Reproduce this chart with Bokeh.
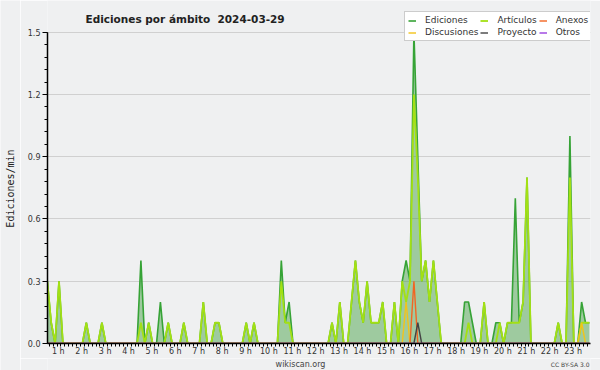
import math
from bokeh.plotting import figure
from bokeh.layouts import column, row
from bokeh.models import (Range1d, FixedTicker, PrintfTickFormatter, CustomJSTickFormatter,
                          Legend, LegendItem, Label)
from bokeh.embed import file_html
from bokeh.resources import INLINE

# ---------------- data ----------------
titulo = "Ediciones por ámbito"
fecha = "2024-03-29"
eje_y = "Ediciones/min"
fuente_pie = "wikiscan.org"
licencia = "CC BY-SA 3.0"
primer_minuto = 45      # first 10-minute bucket visible (00:45)
paso_minutos = 10
horas = list(range(1, 24))
ticks_y = [0.0, 0.3, 0.6, 0.9, 1.2, 1.5]

ediciones = [
    0.3, 0.1, 0, 0.3, 0, 0, 0, 0, 0, 0,
    0.1, 0, 0, 0, 0.1, 0, 0, 0, 0, 0,
    0, 0, 0, 0, 0.4, 0, 0.1, 0, 0, 0.2,
    0, 0.1, 0, 0, 0, 0.1, 0, 0, 0, 0,
    0.2, 0, 0, 0.1, 0.1, 0, 0, 0, 0, 0,
    0, 0.1, 0, 0.1, 0, 0, 0, 0, 0, 0,
    0.4, 0.1, 0.2, 0, 0, 0, 0, 0, 0, 0,
    0, 0, 0, 0.1, 0, 0.2, 0, 0, 0.2, 0.4,
    0.2, 0.1, 0.3, 0.1, 0.1, 0.1, 0.2, 0, 0, 0.2,
    0, 0.3, 0.4, 0.3, 1.5, 0.9, 0.3, 0.4, 0.2, 0.4,
    0.2, 0, 0, 0, 0, 0, 0, 0.2, 0.2, 0.1,
    0, 0, 0.2, 0, 0, 0.1, 0.1, 0, 0.1, 0.1,
    0.7, 0.1, 0.2, 0.8, 0, 0, 0, 0, 0, 0,
    0, 0.1, 0, 0, 1.0, 0, 0, 0.2, 0.1, 0.1,
]
articulos = [
    0.3, 0.1, 0, 0.3, 0, 0, 0, 0, 0, 0,
    0.1, 0, 0, 0, 0.1, 0, 0, 0, 0, 0,
    0, 0, 0, 0, 0.1, 0, 0.1, 0, 0, 0,
    0, 0.1, 0, 0, 0, 0.1, 0, 0, 0, 0,
    0.2, 0, 0, 0.1, 0.1, 0, 0, 0, 0, 0,
    0, 0.1, 0, 0.1, 0, 0, 0, 0, 0, 0,
    0.3, 0.1, 0.1, 0, 0, 0, 0, 0, 0, 0,
    0, 0, 0, 0.1, 0, 0.2, 0, 0, 0.2, 0.4,
    0.2, 0.1, 0.3, 0.1, 0.1, 0.1, 0.2, 0, 0, 0.2,
    0, 0.3, 0.2, 0.3, 1.2, 0.8, 0.3, 0.4, 0.2, 0.4,
    0.2, 0, 0, 0, 0, 0, 0, 0, 0.1, 0,
    0, 0, 0.2, 0, 0, 0, 0.1, 0, 0.1, 0.1,
    0.1, 0.1, 0.2, 0.8, 0, 0, 0, 0, 0, 0,
    0, 0.1, 0, 0, 0.8, 0, 0, 0.1, 0.1, 0.1,
]
anexos = [
    0, 0, 0, 0, 0, 0, 0, 0, 0, 0,
    0, 0, 0, 0, 0, 0, 0, 0, 0, 0,
    0, 0, 0, 0, 0, 0, 0, 0, 0, 0,
    0, 0, 0, 0, 0, 0, 0, 0, 0, 0,
    0, 0, 0, 0, 0, 0, 0, 0, 0, 0,
    0, 0, 0, 0, 0, 0, 0, 0, 0, 0,
    0, 0, 0, 0, 0, 0, 0, 0, 0, 0,
    0, 0, 0, 0, 0, 0, 0, 0, 0, 0,
    0, 0, 0, 0, 0, 0, 0, 0, 0, 0,
    0, 0, 0, 0, 0.3, 0, 0, 0, 0, 0,
    0, 0, 0, 0, 0, 0, 0, 0, 0, 0,
    0, 0, 0, 0, 0, 0, 0, 0, 0, 0,
    0, 0, 0, 0, 0, 0, 0, 0, 0, 0,
    0, 0, 0, 0, 0, 0, 0, 0, 0, 0,
]
discusiones = [
    0, 0, 0, 0, 0, 0, 0, 0, 0, 0,
    0, 0, 0, 0, 0, 0, 0, 0, 0, 0,
    0, 0, 0, 0, 0, 0, 0, 0, 0, 0,
    0, 0, 0, 0, 0, 0, 0, 0, 0, 0,
    0, 0, 0, 0, 0, 0, 0, 0, 0, 0,
    0, 0, 0, 0, 0, 0, 0, 0, 0, 0,
    0, 0, 0, 0, 0, 0, 0, 0, 0, 0,
    0, 0, 0, 0, 0, 0, 0, 0, 0, 0,
    0, 0, 0, 0, 0, 0, 0, 0, 0, 0,
    0, 0, 0.2, 0, 0, 0, 0, 0, 0, 0,
    0, 0, 0, 0, 0, 0, 0, 0, 0, 0,
    0, 0, 0, 0, 0, 0, 0, 0, 0, 0,
    0, 0, 0, 0, 0, 0, 0, 0, 0, 0,
    0, 0, 0, 0, 0, 0, 0, 0.1, 0, 0,
]
proyecto = [
    0, 0, 0, 0, 0, 0, 0, 0, 0, 0,
    0, 0, 0, 0, 0, 0, 0, 0, 0, 0,
    0, 0, 0, 0, 0, 0, 0, 0, 0, 0,
    0, 0, 0, 0, 0, 0, 0, 0, 0, 0,
    0, 0, 0, 0, 0, 0, 0, 0, 0, 0,
    0, 0, 0, 0, 0, 0, 0, 0, 0, 0,
    0, 0, 0, 0, 0, 0, 0, 0, 0, 0,
    0, 0, 0, 0, 0, 0, 0, 0, 0, 0,
    0, 0, 0, 0, 0, 0, 0, 0, 0, 0,
    0, 0, 0, 0, 0, 0.1, 0, 0, 0, 0,
    0, 0, 0, 0, 0, 0, 0, 0, 0, 0,
    0, 0, 0, 0, 0, 0, 0, 0, 0, 0,
    0, 0, 0, 0, 0, 0, 0, 0, 0, 0,
    0, 0, 0, 0, 0, 0, 0, 0, 0, 0,
]
otros = [
    0, 0, 0, 0, 0, 0, 0, 0, 0, 0,
    0, 0, 0, 0, 0, 0, 0, 0, 0, 0,
    0, 0, 0, 0, 0, 0, 0, 0, 0, 0,
    0, 0, 0, 0, 0, 0, 0, 0, 0, 0,
    0, 0, 0, 0, 0, 0, 0, 0, 0, 0,
    0, 0, 0, 0, 0, 0, 0, 0, 0, 0,
    0, 0, 0, 0, 0, 0, 0, 0, 0, 0,
    0, 0, 0, 0, 0, 0, 0, 0, 0, 0,
    0, 0, 0, 0, 0, 0, 0, 0, 0, 0,
    0, 0, 0, 0, 0, 0, 0, 0, 0, 0,
    0, 0, 0, 0, 0, 0, 0, 0, 0, 0,
    0, 0, 0, 0, 0, 0, 0, 0, 0, 0,
    0, 0, 0, 0, 0, 0, 0, 0, 0, 0,
    0, 0, 0, 0, 0, 0, 0, 0, 0, 0,
]

# time of each bucket, in hours
t = [(primer_minuto + paso_minutos * i) / 60 for i in range(len(ediciones))]

# ---------------- styles ----------------
FONT = "DejaVu Sans"
BG = "#eff0f1"
c_ed, c_fill = "#36a336", "#3c9c3c"
c_art = "#a3e014"
c_anx = "#f26522"
c_dis = "#f2c31a"
c_pro = "#444444"
c_otr = "#9a40e0"


def strip(width, height, border_left=0, border_right=0):
    f = figure(width=width, height=height, output_backend="svg", toolbar_location=None,
               x_range=Range1d(0, 1), y_range=Range1d(0, 1),
               x_axis_location=None, y_axis_location=None,
               min_border_left=border_left, min_border_right=border_right,
               min_border_top=0, min_border_bottom=0,
               background_fill_color=BG, border_fill_color=BG, outline_line_color=None)
    f.xgrid.visible = False
    f.ygrid.visible = False
    return f


# main plot: frame reaches the top of the figure so that title and legend live
# inside it; the y axis itself is bounded to 0..1.5
p = figure(width=580, height=358, output_backend="svg", toolbar_location=None,
           x_range=Range1d(0.758, 23.963), y_range=Range1d(0, 1.653),
           min_border_left=27, min_border_right=10, min_border_top=0, min_border_bottom=15,
           background_fill_color=BG, border_fill_color=BG, outline_line_color=None)

# y axis
yt = FixedTicker(ticks=ticks_y, minor_ticks=[round(0.06 * k, 2) for k in range(26)])
p.yaxis.ticker = yt
p.ygrid.ticker = yt
p.yaxis.bounds = (0, 1.5)
p.yaxis.formatter = PrintfTickFormatter(format="%.1f")
p.yaxis.major_tick_out = 5
p.yaxis.major_tick_in = 0
p.yaxis.minor_tick_out = 3
p.yaxis.minor_tick_in = 0
p.yaxis.major_label_standoff = 2

# x axis
xt = FixedTicker(ticks=[h + 0.22 for h in horas], minor_ticks=[k / 6 for k in range(145)])
p.xaxis.ticker = xt
p.xaxis.formatter = CustomJSTickFormatter(code="return Math.floor(tick) + ' h'")
p.xaxis.major_tick_out = 0
p.xaxis.major_tick_in = 0
p.xaxis.minor_tick_out = 3
p.xaxis.minor_tick_in = 0
p.xaxis.major_label_standoff = 0

for ax in (p.xaxis, p.yaxis):
    ax.axis_line_color = "black"
    ax.axis_line_width = 1.5
    ax.major_tick_line_color = "black"
    ax.minor_tick_line_color = "black"
    ax.major_label_text_font = FONT
    ax.major_label_text_font_size = "8px"
    ax.major_label_text_color = "#333333"

p.xgrid.visible = False
p.ygrid.grid_line_color = "#d0d0d0"
p.ygrid.grid_line_width = 1

# series
p.varea(x=t, y1=0, y2=ediciones, fill_color=c_fill, fill_alpha=0.45)
r_ed = p.line(t, ediciones, line_color=c_ed, line_width=1.6)
r_art = p.line(t, articulos, line_color=c_art, line_width=1.8)
r_dis = p.line(t, discusiones, line_color=c_dis, line_width=1.4)
r_anx = p.line(t, anexos, line_color=c_anx, line_width=1.4)
r_pro = p.line(t, proyecto, line_color=c_pro, line_width=1.4)
r_otr = p.line(t, otros, line_color=c_otr, line_width=1.4)

legend = Legend(items=[
    LegendItem(label="Ediciones", renderers=[r_ed]),
    LegendItem(label="Artículos", renderers=[r_art]),
    LegendItem(label="Anexos", renderers=[r_anx]),
    LegendItem(label="Discusiones", renderers=[r_dis]),
    LegendItem(label="Proyecto", renderers=[r_pro]),
    LegendItem(label="Otros", renderers=[r_otr]),
], location=(357, 302), orientation="horizontal", ncols=3)
legend.label_text_font = FONT
legend.label_text_font_size = "9px"
legend.label_text_color = "#333333"
legend.glyph_width = 8
legend.glyph_height = 9
legend.label_height = 9
legend.label_standoff = 9
legend.spacing = 2
legend.padding = 3
legend.margin = 0
legend.border_line_color = "#999999"
legend.border_line_width = 1
legend.background_fill_color = "white"
legend.background_fill_alpha = 1
p.add_layout(legend)

# title (inside the frame, above the plotted range)
p.add_layout(Label(x=38, y=324.7, x_units="screen", y_units="screen", text=titulo,
                   text_font=FONT, text_font_size="10.5px", text_font_style="bold",
                   text_color="#222222", text_baseline="alphabetic"))
p.add_layout(Label(x=170, y=324.7, x_units="screen", y_units="screen", text=fecha,
                   text_font=FONT, text_font_size="10.5px", text_font_style="bold",
                   text_color="#222222", text_baseline="alphabetic"))

# footer strip
pie = strip(580, 12, border_left=27, border_right=10)
pie.add_layout(Label(x=253, y=6, x_units="screen", y_units="screen", text=fuente_pie,
                     text_font=FONT, text_font_size="8px", text_color="#444444",
                     text_align="center", text_baseline="alphabetic"))
pie.add_layout(Label(x=542, y=6, x_units="screen", y_units="screen", text=licencia,
                     text_font=FONT, text_font_size="6px", text_color="#444444",
                     text_align="right", text_baseline="alphabetic"))

# y-axis title strip on the left, centred on the plotted 0..1.5 band
lado = strip(20, 370)
lado.add_layout(Label(x=10, y=182, x_units="screen", y_units="screen", text=eje_y,
                      angle=math.pi / 2, text_font="DejaVu Sans Mono", text_font_size="10px",
                      text_color="#222222", text_align="center", text_baseline="middle"))

layout = row(lado, column(p, pie, spacing=0), spacing=0)
open("out.html", "w").write(file_html(layout, INLINE))
